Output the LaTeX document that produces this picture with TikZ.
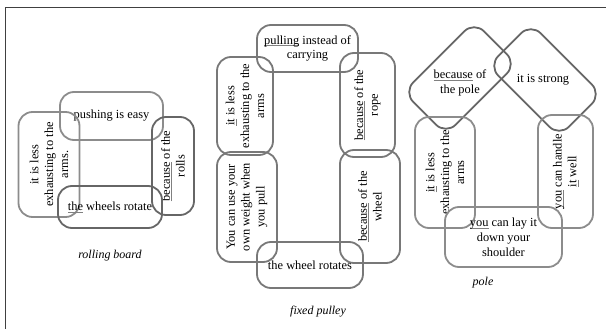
\documentclass[tikz,border=0pt]{standalone}
\usepackage{fontspec}
\setmainfont{Liberation Serif}
\definecolor{lg}{gray}{0.55}
\definecolor{mg}{gray}{0.47}
\definecolor{dg}{gray}{0.40}
\definecolor{frame}{gray}{0.25}
\newcommand{\ul}[1]{\setbox0\hbox{#1}\rlap{\color{gray}\rule[-1.8pt]{\wd0}{0.5pt}}\box0\relax}
\begin{document}
\begin{tikzpicture}[x=1pt,y=-1pt,
  rbox/.style={draw=#1, line width=1.8pt, rounded corners=14pt, inner sep=0pt,
    align=center, font=\fontsize{12.4}{14.8}\selectfont},
  rbox/.default=mg,
  captxt/.style={font=\fontsize{12}{14}\selectfont\itshape, inner sep=0pt},
  txt/.style={align=center, font=\fontsize{12.4}{14.8}\selectfont, inner sep=0pt}]
\useasboundingbox (0,0) rectangle (606,329);
% frame
\coordinate (f1) at (5,329);
\coordinate (f2) at (5,7);
\coordinate (f3) at (606,7);
\draw[frame, line width=0.9pt] (f1) -- (f2) -- (f3);

% rolling board
\node[rbox=lg, minimum width=103pt, minimum height=48pt] (rpush) at (111.5,116) {pushing is easy};
\node[rbox=lg, rotate=90, minimum width=105pt, minimum height=61pt] (rleft) at (49,164.5) {it is less\\ exhausting to the\\ arms.};
\node[rbox=dg, rotate=90, minimum width=98pt, minimum height=42pt] (rright) at (173,166) {\ul{because} of the\\ rolls};
\node[rbox=dg, minimum width=104pt, minimum height=42pt] (rbot) at (110,207) {\ul{the} wheels rotate};
\node[captxt] (rcap) at (110,256) {rolling board};

% fixed pulley
\node[rbox=mg, minimum width=101pt, minimum height=47pt] (ptop) at (307.5,48.5) {\ul{pulling} instead of\\ carrying};
\node[rbox=mg, rotate=90, minimum width=98pt, minimum height=56pt] (plu) at (245,106) {\ul{it} is less\\ exhausting to the\\ arms};
\node[rbox=mg, rotate=90, minimum width=110pt, minimum height=60pt] (pll) at (247,207) {You can use your\\ own weight when\\ you pull};
\node[rbox=mg, rotate=90, minimum width=104pt, minimum height=55pt] (pru) at (367.5,105) {\ul{because} of the\\ rope};
\node[rbox=mg, rotate=90, minimum width=113pt, minimum height=60pt] (prl) at (370,206.5) {\ul{because} of the\\ wheel};
\node[rbox=mg, minimum width=106pt, minimum height=46pt] (pbot) at (310,265) {the wheel rotates};
\node[captxt] (pcap) at (318,312) {fixed pulley};

% pole
\node[rbox=dg, rotate=45, minimum width=100pt, minimum height=60pt] (qdl) at (460,78) {};
\node[txt] (qdlt) at (460,83) {\ul{because} of\\ the pole};
\node[rbox=dg, rotate=-45, minimum width=100pt, minimum height=60pt] (qdr) at (545,80) {};
\node[txt] (qdrt) at (543,80) {it is strong};
\node[rbox=lg, rotate=90, minimum width=111pt, minimum height=60pt] (qleft) at (445,172.5) {\ul{it} is less\\ exhausting to the\\ arms};
\node[rbox=lg, rotate=90, minimum width=113pt, minimum height=55pt] (qright) at (565.5,171.5) {\ul{you} can handle\\ \ul{it} well};
\node[rbox=lg, minimum width=117pt, minimum height=60pt] (qbot) at (503.5,237) {\ul{you} can lay it\\ down your\\ shoulder};
\node[captxt] (qcap) at (483,283) {pole};
\end{tikzpicture}
\end{document}
